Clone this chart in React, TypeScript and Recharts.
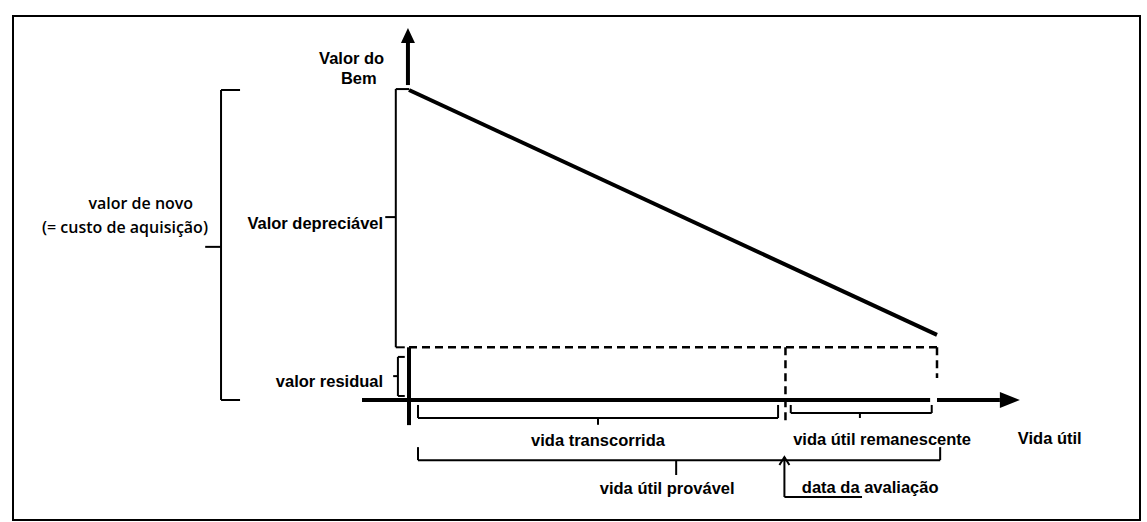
import React from 'react';
import { LineChart, Line, XAxis, YAxis, ReferenceLine, ReferenceDot } from 'recharts';

// vida útil (anos) e valor do bem (% do valor de novo)
const years = [0, 10];
const bemValues = [100, 21];
const valorNovo = 100;
const valorResidual = 17;
const vidaProvavel = 10;
const dataAvaliacao = 7.1;

const chartData = years.map((t, i) => ({ t, valor: bemValues[i] }));

const FONT = '"Liberation Sans", Arial, sans-serif';
const FONT_LEFT = '"Open Sans", "Noto Sans", sans-serif';

type Pt = { x: number; y: number };

const arrowShape = (len: number, half: number, open: boolean, width: number) => (p: any) => {
  const { x1, y1, x2, y2 } = p;
  const a = Math.atan2(y2 - y1, x2 - x1);
  const bx = x2 - len * Math.cos(a);
  const by = y2 - len * Math.sin(a);
  const nx = -Math.sin(a) * half;
  const ny = Math.cos(a) * half;
  if (open) {
    return (
      <g>
        <line x1={x1} y1={y1} x2={x2} y2={y2} stroke="#000" strokeWidth={width} />
        <polyline points={`${bx + nx},${by + ny} ${x2},${y2} ${bx - nx},${by - ny}`} fill="none" stroke="#000" strokeWidth={width} />
      </g>
    );
  }
  return (
    <g>
      <line x1={x1} y1={y1} x2={bx} y2={by} stroke="#000" strokeWidth={width} />
      <polygon points={`${bx + nx},${by + ny} ${x2},${y2} ${bx - nx},${by - ny}`} fill="#000" />
    </g>
  );
};

const seg = (key: string, a: Pt, b: Pt, width = 2, dash?: string, shape?: any) => (
  <ReferenceLine
    key={key}
    segment={[a, b]}
    stroke="#000"
    strokeWidth={width}
    strokeDasharray={dash}
    ifOverflow="visible"
    shape={shape}
  />
);

// chave vertical: x, de y0 a y1, ganchos até hx, ponta até tx na altura ty
const vBrace = (key: string, x: number, y0: number, y1: number, hx0: number, hx1: number, tx: number, ty: number) => [
  seg(key + 'm', { x, y: y0 }, { x, y: y1 }),
  seg(key + 'a', { x, y: y0 }, { x: hx0, y: y0 }),
  seg(key + 'b', { x, y: y1 }, { x: hx1, y: y1 }),
  seg(key + 't', { x, y: ty }, { x: tx, y: ty }),
];

// chave horizontal: y, de x0 a x1, ganchos até hy, ponta em tx até ty
const hBrace = (key: string, y: number, x0: number, x1: number, hy: number, tx: number, ty: number) => [
  seg(key + 'm', { x: x0, y }, { x: x1, y }),
  seg(key + 'a', { x: x0, y }, { x: x0, y: hy }),
  seg(key + 'b', { x: x1, y }, { x: x1, y: hy }),
  seg(key + 't', { x: tx, y }, { x: tx, y: ty }),
];

const label = (key: string, x: number, y: number, text: string, anchor: 'start' | 'middle' | 'end', font = FONT, size = 16.5, weight = 700) => (
  <ReferenceDot
    key={key}
    x={x}
    y={y}
    r={0}
    ifOverflow="visible"
    shape={(p: any) => (
      <text
        x={p.cx}
        y={p.cy}
        textAnchor={anchor}
        dominantBaseline="central"
        fontFamily={font}
        fontSize={size}
        fontWeight={weight}
        fill="#000"
      >
        {text}
      </text>
    )}
  />
);

export default function App() {
  return (
    <div style={{ position: 'absolute', left: 0, top: 0, width: 1147, height: 522, background: '#fff' }}>
      <div
        style={{
          position: 'absolute',
          left: 12,
          top: 15,
          width: 1129,
          height: 506,
          border: '2px solid #000',
          boxSizing: 'border-box',
        }}
      />
      <div style={{ position: 'absolute', left: 0, top: 0 }}>
        <LineChart width={1147} height={522} data={chartData} margin={{ top: 90, right: 210, bottom: 122, left: 409 }}>
          <XAxis dataKey="t" type="number" domain={[0, vidaProvavel]} hide />
          <YAxis type="number" domain={[0, valorNovo]} hide />

          {/* eixos */}
          {seg('xaxis', { x: -0.89, y: 0 }, { x: 9.87, y: 0 }, 4)}
          {seg('xarrow', { x: 10.0, y: 0 }, { x: 11.57, y: 0 }, 4, undefined, arrowShape(20, 8, false, 4))}
          {seg('yaxis', { x: 0, y: -8.1 }, { x: 0, y: valorResidual }, 4)}
          {seg('yarrow', { x: -0.02, y: 101.6 }, { x: -0.02, y: 120 }, 4, undefined, arrowShape(15, 7, false, 4))}

          {/* valor residual tracejado */}
          {seg('resH', { x: 0, y: valorResidual }, { x: vidaProvavel, y: valorResidual }, 2.5, '8 5')}
          {seg('resV', { x: vidaProvavel, y: valorResidual }, { x: vidaProvavel, y: 7.1 }, 2.5, '8 5')}
          {seg('avalV', { x: dataAvaliacao + 0.03, y: valorResidual }, { x: dataAvaliacao + 0.03, y: -7.1 }, 2.5, '8 5')}

          <Line
            dataKey="valor"
            type="linear"
            stroke="#000"
            strokeWidth={4}
            dot={false}
            activeDot={false}
            isAnimationActive={false}
          />

          {/* chaves */}
          {vBrace('novo', -3.56, 0, valorNovo, -3.2, -3.2, -3.86, 49.4)}
          {vBrace('depr', -0.25, valorResidual, 100.3, -0.08, 0, -0.45, 59)}
          {vBrace('resid', -0.21, 1.3, 13.9, -0.08, -0.08, -0.3, 7.7)}
          {hBrace('transc', -5.8, 0.17, 6.99, -1.6, 3.58, -8)}
          {hBrace('reman', -4.2, 7.23, 9.9, -1.6, 8.54, -5.8)}
          {hBrace('prov', -19.4, 0.17, 10.06, -15.2, 5.06, -24.2)}

          {/* data da avaliação */}
          {seg('avalArrow', { x: 7.11, y: -31.3 }, { x: 7.11, y: -18.4 }, 2, undefined, arrowShape(8, 5, true, 2))}
          {seg('avalBase', { x: 7.11, y: -31.3 }, { x: 8.58, y: -31.3 }, 2)}

          {/* textos */}
          {label('l1', -0.47, 110.3, 'Valor do', 'end')}
          {label('l2', -0.95, 103.9, 'Bem', 'middle')}
          {label('l3', -5.08, 63.5, 'valor de novo', 'middle', FONT_LEFT, 16, 600)}
          {label('l4', -5.38, 55.8, '(= custo de aquisição)', 'middle', FONT_LEFT, 16, 600)}
          {label('l5', -0.49, 57.1, 'Valor depreciável', 'end')}
          {label('l6', -0.49, 6.1, 'valor residual', 'end')}
          {label('l7', 3.58, -12.9, 'vida transcorrida', 'middle')}
          {label('l8', 8.96, -12.6, 'vida útil remanescente', 'middle')}
          {label('l9', 11.53, -12.3, 'Vida útil', 'start')}
          {label('l10', 4.89, -28.4, 'vida útil provável', 'middle')}
          {label('l11', 7.44, -28.1, 'data da avaliação', 'start')}
        </LineChart>
      </div>
    </div>
  );
}
